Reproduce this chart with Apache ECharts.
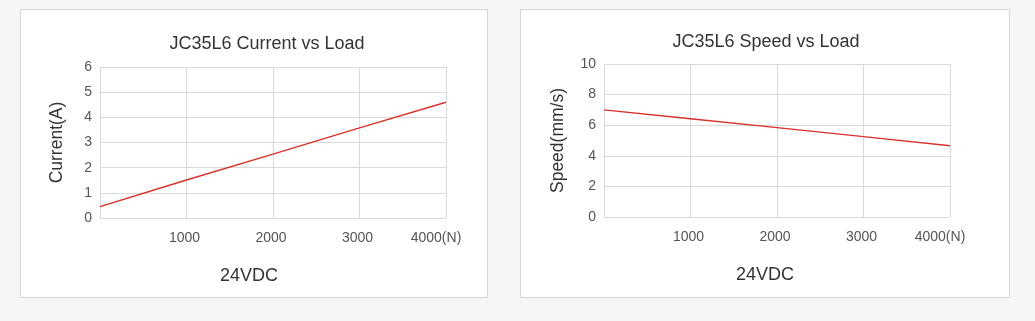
<!DOCTYPE html>
<html>
<head>
<meta charset="utf-8">
<script src="https://cdn.jsdelivr.net/npm/echarts@6/dist/echarts.min.js"></script>
<style>
html,body{margin:0;padding:0;background:#f6f6f6;}
#c{width:1035px;height:321px;}
</style>
</head>
<body>
<div id="c"></div>
<script>
// Data
const loadN = [0, 1000, 2000, 3000, 4000];
const currentA = [0.45, 1.51, 2.54, 3.58, 4.6];
const speedMmS = [7.0, 6.42, 5.84, 5.25, 4.66];
const titles = ['JC35L6 Current vs Load', 'JC35L6 Speed vs Load'];
const yNames = ['Current(A)', 'Speed(mm/s)'];
const xName = '24VDC';
const yMax = [6, 10];
const yInterval = [1, 2];

const FONT = '"Liberation Sans", Arial, sans-serif';
const grids = [
  {left: 100, right: 589, top: 67, bottom: 103},
  {left: 604, right: 85, top: 64, bottom: 104}
];
const namePad = [48, 24];

function xAxis(i) {
  return {
    type: 'value', gridIndex: i, min: 0, max: 4000, interval: 1000,
    name: xName, nameLocation: 'middle', nameGap: 49,
    nameTextStyle: {fontSize: 18, color: '#333', fontFamily: FONT, padding: [0, namePad[i], 0, 0]},
    axisLine: {show: false}, axisTick: {show: false},
    axisLabel: {
      margin: 13, color: '#555', fontSize: 14, fontFamily: FONT,
      formatter: v => v === 0 ? '' : (v === 4000 ? '{n|4000(N)}' : '{m|' + v + '}'),
      rich: {n: {padding: [0, 20, 0, 0], color: '#555', fontSize: 14, fontFamily: FONT},
             m: {padding: [0, 4, 0, 0], color: '#555', fontSize: 14, fontFamily: FONT}}
    },
    splitLine: {show: true, lineStyle: {color: '#d9d9d9', width: 1}}
  };
}
function yAxis(i) {
  return {
    type: 'value', gridIndex: i, min: 0, max: yMax[i], interval: yInterval[i],
    name: yNames[i], nameLocation: 'middle', nameGap: i === 0 ? 34 : 37,
    nameTextStyle: {fontSize: 17.5, color: '#333', fontFamily: FONT},
    axisLine: {show: false}, axisTick: {show: false},
    axisLabel: {margin: 8, color: '#555', fontSize: 14, fontFamily: FONT},
    splitLine: {show: true, lineStyle: {color: '#d9d9d9', width: 1}}
  };
}

const chart = echarts.init(document.getElementById('c'));
chart.setOption({
  backgroundColor: '#f6f6f6',
  animation: false,
  graphic: [
    {type: 'rect', z: -10, shape: {x: 20.5, y: 9.5, width: 467, height: 288},
     style: {fill: '#fff', stroke: '#d6d6d6', lineWidth: 1}},
    {type: 'rect', z: -10, shape: {x: 520.5, y: 9.5, width: 489, height: 288},
     style: {fill: '#fff', stroke: '#d6d6d6', lineWidth: 1}}
  ],
  title: [
    {text: titles[0], left: 262, top: 30, textAlign: 'center',
     textStyle: {fontSize: 18, fontWeight: 'normal', color: '#333', fontFamily: FONT}},
    {text: titles[1], left: 761, top: 28, textAlign: 'center',
     textStyle: {fontSize: 18, fontWeight: 'normal', color: '#333', fontFamily: FONT}}
  ],
  grid: grids,
  xAxis: [xAxis(0), xAxis(1)],
  yAxis: [yAxis(0), yAxis(1)],
  series: [
    {type: 'line', xAxisIndex: 0, yAxisIndex: 0, showSymbol: false,
     data: loadN.map((x, k) => [x, currentA[k]]),
     lineStyle: {color: '#d9302b', width: 1.4}},
    {type: 'line', xAxisIndex: 1, yAxisIndex: 1, showSymbol: false,
     data: loadN.map((x, k) => [x, speedMmS[k]]),
     lineStyle: {color: '#d9302b', width: 1.4}}
  ]
});
</script>
</body>
</html>
